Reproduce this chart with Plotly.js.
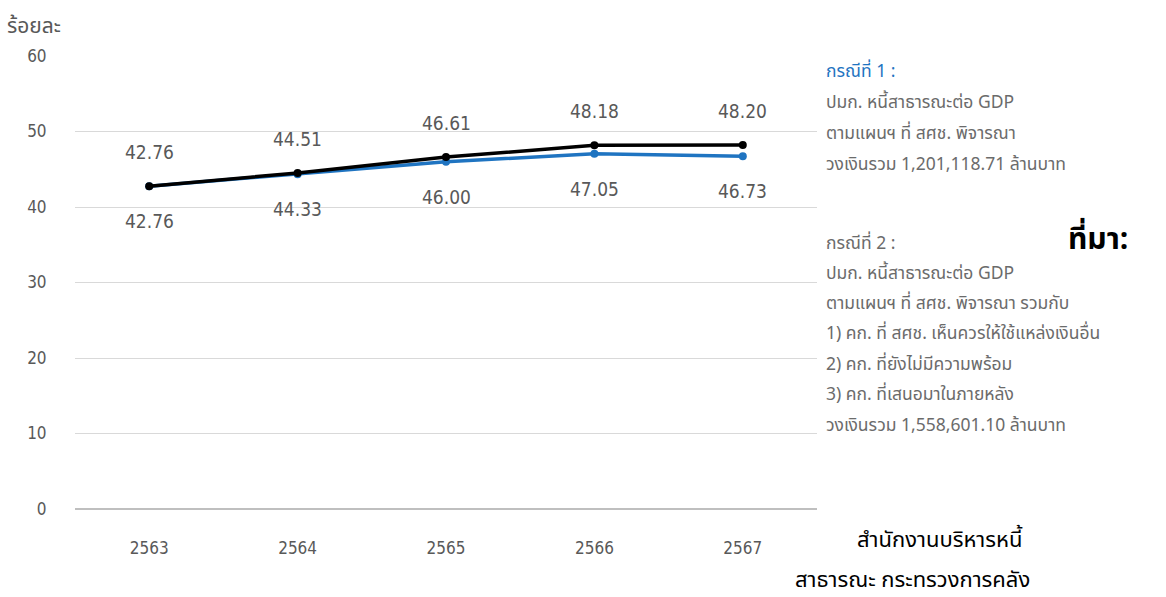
<!DOCTYPE html>
<html>
<head>
<meta charset="utf-8">
<script src="https://cdn.plot.ly/plotly-3.0.1.min.js"></script>
<style>html,body{margin:0;padding:0;background:#fff;}#chart{width:1166px;height:597px;}</style>
</head>
<body>
<div id="chart"></div>
<script>
const years = ['2563', '2564', '2565', '2566', '2567'];
const case1 = [42.76, 44.33, 46.00, 47.05, 46.73];
const case2 = [42.76, 44.51, 46.61, 48.18, 48.20];
const case1Labels = ['42.76', '44.33', '46.00', '47.05', '46.73'];
const case2Labels = ['42.76', '44.51', '46.61', '48.18', '48.20'];
const yTicks = [0, 10, 20, 30, 40, 50, 60];
const yTitle = 'ร้อยละ';
const note1Title = 'กรณีที่ 1 :';
const note1Lines = ['ปมก. หนี้สาธารณะต่อ GDP', 'ตามแผนฯ ที่ สศช. พิจารณา', 'วงเงินรวม 1,201,118.71 ล้านบาท'];
const note2Title = 'กรณีที่ 2 :';
const note2Lines = ['ปมก. หนี้สาธารณะต่อ GDP', 'ตามแผนฯ ที่ สศช. พิจารณา รวมกับ', '1) คก. ที่ สศช. เห็นควรให้ใช้แหล่งเงินอื่น', '2) คก. ที่ยังไม่มีความพร้อม', '3) คก. ที่เสนอมาในภายหลัง', 'วงเงินรวม 1,558,601.10 ล้านบาท'];
const sourceLabel = 'ที่มา:';
const sourceLines = ['สำนักงานบริหารหนี้', 'สาธารณะ กระทรวงการคลัง'];

const numFont = 'Liberation Sans Narrow, DejaVu Sans Condensed, Arial Narrow, sans-serif';
const thaiFont = 'Noto Sans Thai, Noto Sans, Tahoma, sans-serif';
const gray = '#595959';
const noteGray = '#6b6b6b';
const blue = '#1f74c1';

const M = {l: 75, r: 349, t: 56, b: 88};
const W = 1166, H = 597;
const PW = W - M.l - M.r, PH = H - M.t - M.b;
const fx = p => (p - M.l) / PW;
const fy = p => (H - M.b - p) / PH;

const traces = [
  {x: years, y: case1, type: 'scatter', mode: 'lines+markers', name: 'กรณีที่ 1',
   line: {color: blue, width: 3.5}, marker: {color: blue, size: 8}, hoverinfo: 'skip'},
  {x: years, y: case2, type: 'scatter', mode: 'lines+markers', name: 'กรณีที่ 2',
   line: {color: '#000000', width: 3.5}, marker: {color: '#000000', size: 8}, hoverinfo: 'skip'}
];

const annotations = [];
years.forEach((yr, i) => {
  annotations.push({x: i, y: case2[i], xref: 'x', yref: 'y', text: case2Labels[i], showarrow: false,
    yshift: 34, font: {family: numFont, size: 19, color: gray}});
  annotations.push({x: i, y: case1[i], xref: 'x', yref: 'y', text: case1Labels[i], showarrow: false,
    yshift: -35, font: {family: numFont, size: 19, color: gray}});
});
annotations.push({x: fx(5), y: fy(27), xref: 'paper', yref: 'paper', xanchor: 'left', yanchor: 'middle', text: yTitle,
  showarrow: false, font: {family: thaiFont, size: 21, color: gray}});

const noteX = 824;
const noteSize = 17.5;
function addLine(text, yc, color, size) {
  annotations.push({x: fx(noteX), y: fy(yc), xref: 'paper', yref: 'paper',
    xanchor: 'left', yanchor: 'middle', text: text, showarrow: false,
    font: {family: thaiFont, size: size, color: color}});
}
addLine(note1Title, 72, blue, noteSize);
note1Lines.forEach((t, i) => addLine(t, 103 + i * 30.5, noteGray, noteSize));
addLine(note2Title, 243, noteGray, noteSize);
note2Lines.forEach((t, i) => addLine(t, 273 + i * 30.4, noteGray, noteSize));
annotations.push({x: fx(1130), y: fy(240), xref: 'paper', yref: 'paper', xanchor: 'right', yanchor: 'middle',
  text: '<b>' + sourceLabel + '</b>', showarrow: false, font: {family: thaiFont, size: 30, color: '#000'}});
annotations.push({x: fx(1024), y: fy(540), xref: 'paper', yref: 'paper', xanchor: 'right', yanchor: 'middle',
  text: sourceLines[0], showarrow: false, font: {family: thaiFont, size: 22, color: '#000'}});
annotations.push({x: fx(1032), y: fy(580), xref: 'paper', yref: 'paper', xanchor: 'right', yanchor: 'middle',
  text: sourceLines[1], showarrow: false, font: {family: thaiFont, size: 22, color: '#000'}});

const layout = {
  width: W, height: H,
  margin: M,
  paper_bgcolor: '#fff', plot_bgcolor: '#fff',
  showlegend: false,
  xaxis: {type: 'category', range: [-0.5, 4.5], showgrid: false, zeroline: false, showline: false,
    ticks: 'outside', ticklen: 24, tickcolor: 'rgba(0,0,0,0)',
    tickfont: {family: numFont, size: 17, color: gray}},
  yaxis: {range: [0, 60], tickvals: yTicks, showgrid: true, gridcolor: '#d9d9d9', gridwidth: 1,
    zeroline: true, zerolinecolor: '#bfbfbf', zerolinewidth: 2, showline: false,
    ticks: 'outside', ticklen: 24, tickcolor: 'rgba(0,0,0,0)',
    tickfont: {family: numFont, size: 17, color: gray}},
  annotations: annotations
};

Plotly.newPlot('chart', traces, layout, {displayModeBar: false, staticPlot: true});
</script>
</body>
</html>
